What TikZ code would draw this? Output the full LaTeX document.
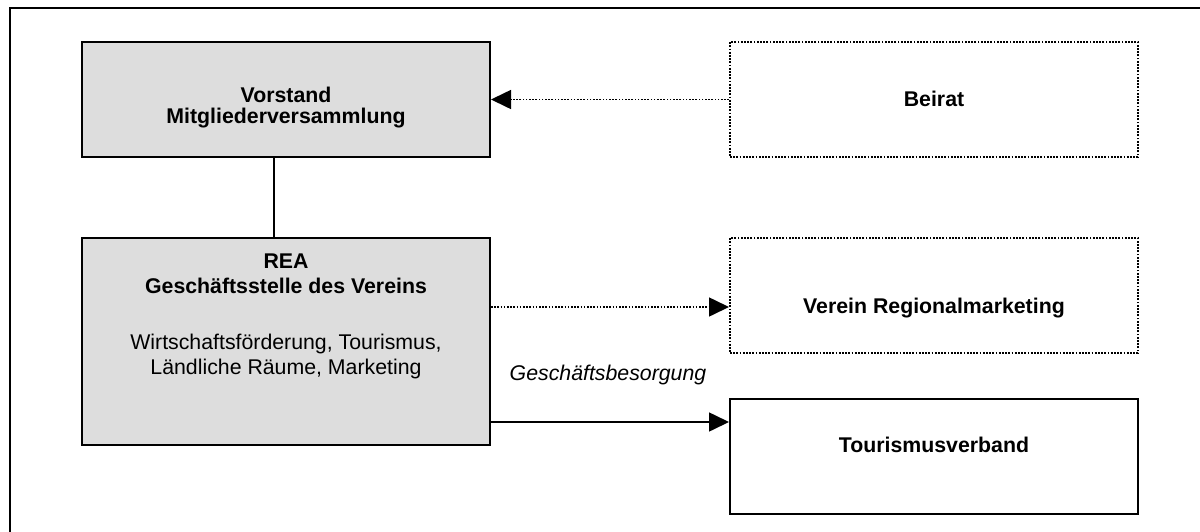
\documentclass[tikz,border=0pt]{standalone}
\usepackage{fontspec}
\setmainfont{Liberation Sans}
\usetikzlibrary{arrows.meta,calc}
\definecolor{boxgray}{RGB}{221,221,221}
\begin{document}
\begin{tikzpicture}[x=1pt,y=-1pt,
  font=\fontsize{21.3}{25}\selectfont,
  box/.style={draw=black,line width=2pt,minimum width=408pt,minimum height=115pt,inner sep=0pt},
  graybox/.style={box,fill=boxgray},
  dotbox/.style={draw=black,line width=2pt,dash pattern=on 1.8pt off 1.4pt,
    minimum width=408pt,minimum height=115pt,inner sep=0pt},
  txt/.style={align=center,inner sep=0pt},
  link/.style={line width=1.6pt},
  dotlink/.style={line width=1.6pt,dash pattern=on 1.6pt off 1.6pt},
  tip/.style={-{Triangle[length=20pt,width=19pt]}}]
\useasboundingbox (0,0) rectangle (1200,531);
% frame (only its upper left corner lies within the page)
\draw[line width=2pt] (10,540) -- (10,8) -- (1210,8);

% boxes
\node[graybox] (vorstand) at (286,99.5) {};
\node[graybox,minimum height=207pt] (rea) at (286,341.5) {};
\node[dotbox] (beirat) at (934,99.5) {};
\node[dotbox] (verein) at (934,295.5) {};
\node[box] (tour) at (934,456) {};

% box texts
\node[txt,font=\fontsize{21.3}{21.5}\selectfont\bfseries] (vorstandtxt) at ($(vorstand.center)+(0,8)$)
  {Vorstand\\Mitgliederversammlung};
\node[txt,anchor=north] (reatxt) at ($(rea.north)+(0,17)$)
  {\textbf{REA}\\\textbf{Geschäftsstelle des Vereins}\\[31pt]Wirtschaftsförderung, Tourismus,\\Ländliche Räume, Marketing};
\node[txt,font=\fontsize{21.3}{25}\selectfont\bfseries] (beirattxt) at ($(beirat.center)+(0,-1)$) {Beirat};
\node[txt,font=\fontsize{21.3}{25}\selectfont\bfseries] (vereintxt) at ($(verein.center)+(0,13)$) {Verein Regionalmarketing};
\node[txt,font=\fontsize{21.3}{25}\selectfont\bfseries] (tourtxt) at ($(tour.center)+(0,-11)$) {Tourismusverband};

% connectors
\draw[link] (vorstand.south -| 274,0) -- (rea.north -| 274,0);
\draw[dotlink,tip] (beirat.west) -- (vorstand.east);
\draw[dotlink,tip] (rea.east |- 0,307) -- (verein.west |- 0,307);
\draw[link,tip] (rea.east |- 0,422) -- (tour.west |- 0,422);
\node[font=\fontsize{21.3}{25}\selectfont\itshape] (gb) at (608,375) {Geschäftsbesorgung};
\end{tikzpicture}
\end{document}
